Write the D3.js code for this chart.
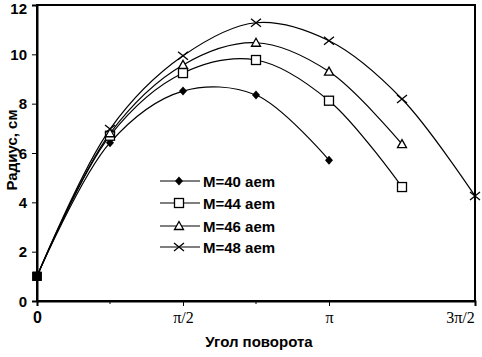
<!DOCTYPE html>
<html><head><meta charset="utf-8">
<script src="https://cdn.jsdelivr.net/npm/d3@7"></script>
<style>body{margin:0;background:#fff}svg{display:block}</style>
</head><body>
<script>
const xAngles = [0, Math.PI/4, Math.PI/2, 3*Math.PI/4, Math.PI, 5*Math.PI/4, 3*Math.PI/2];
const seriesNames = ["M=40 aem", "M=44 aem", "M=46 aem", "M=48 aem"];
const m40 = [1.0, 6.42, 8.51, 8.35, 5.71];
const m44 = [1.0, 6.7, 9.24, 9.77, 8.12, 4.62];
const m46 = [1.0, 6.8, 9.57, 10.47, 9.3, 6.36];
const m48 = [1.0, 6.97, 9.94, 11.28, 10.55, 8.19, 4.26];
const yTicks = [0, 2, 4, 6, 8, 10, 12];
const xTickValues = [0, Math.PI/2, Math.PI, 3*Math.PI/2];
const xTickLabels = ["0", "π/2", "π", "3π/2"];
const markers = ["diamond", "square", "triangle", "x"];

const W = 482, H = 357;
const SANS = "Liberation Sans, Arial, sans-serif";
const SERIF = "Liberation Serif, Times New Roman, serif";
const svg = d3.select("body").append("svg").attr("width", W).attr("height", H);
const x = d3.scaleLinear().domain([0, 3*Math.PI/2]).range([37, 475]);
const y = d3.scaleLinear().domain([0, 12]).range([301, 5]);

// frame
svg.append("rect").attr("x", 37).attr("y", 5).attr("width", 438).attr("height", 296)
  .attr("fill", "none").attr("stroke", "#000").attr("stroke-width", 2);

// y axis
const yAxis = d3.axisLeft(y).tickValues(yTicks).tickSize(5).tickPadding(5).tickFormat(d3.format("d"));
const gy = svg.append("g").attr("transform", "translate(37,0)").call(yAxis);
gy.select(".domain").attr("stroke-width", 2);
gy.selectAll("text").attr("font-family", SANS).attr("font-size", 15).attr("font-weight", "bold").attr("fill", "#000")
  .attr("dy", d => d === 12 ? "0.85em" : "0.35em").attr("y", d => d === 12 ? -4 : 0);

// x axis
const xAxis = d3.axisBottom(x).tickValues(xTickValues).tickSize(5).tickPadding(6)
  .tickFormat((d, i) => xTickLabels[i]);
const gx = svg.append("g").attr("transform", "translate(0,301)").call(xAxis);
gx.select(".domain").attr("stroke-width", 2);
gx.selectAll("text").attr("font-family", (d, i) => i === 0 ? SANS : SERIF)
  .attr("font-weight", (d, i) => i === 0 ? "bold" : "normal")
  .attr("font-size", 16).attr("fill", "#000")
  .attr("x", (d, i) => i === 3 ? -15 : 0);
// minor marks
const minor = [Math.PI/4, 3*Math.PI/4];
svg.selectAll(".minor").data(minor).enter().append("line")
  .attr("x1", d => x(d)).attr("x2", d => x(d)).attr("y1", 302).attr("y2", 304)
  .attr("stroke", "#000").attr("stroke-width", 1);

// axis titles
svg.append("text").attr("x", 259).attr("y", 347).attr("text-anchor", "middle")
  .attr("font-family", SANS).attr("font-size", 15).attr("font-weight", "bold").text("Угол поворота");
svg.append("text").attr("transform", "translate(17,150) rotate(-90)").attr("text-anchor", "middle")
  .attr("font-family", SANS).attr("font-size", 15).attr("font-weight", "bold").text("Радиус, см");

const allSeries = [m40, m44, m46, m48];
const line = d3.line().x((d, i) => x(xAngles[i])).y(d => y(d)).curve(d3.curveCatmullRom.alpha(0.5));

function drawMarker(g, type, cx, cy) {
  if (type === "diamond") {
    g.append("path").attr("d", `M${cx},${cy-4.5}L${cx+4},${cy}L${cx},${cy+4.5}L${cx-4},${cy}Z`).attr("fill", "#000");
  } else if (type === "square") {
    g.append("rect").attr("x", cx-4.5).attr("y", cy-4.5).attr("width", 9).attr("height", 9)
      .attr("fill", "#fff").attr("stroke", "#000").attr("stroke-width", 1.3);
  } else if (type === "triangle") {
    g.append("path").attr("d", `M${cx},${cy-4.5}L${cx+4.5},${cy+3.5}L${cx-4.5},${cy+3.5}Z`)
      .attr("fill", "#fff").attr("stroke", "#000").attr("stroke-width", 1.3);
  } else {
    g.append("path").attr("d", `M${cx-5},${cy-4}L${cx+5},${cy+4}M${cx-5},${cy+4}L${cx+5},${cy-4}`)
      .attr("stroke", "#000").attr("stroke-width", 1.3).attr("fill", "none");
  }
}

allSeries.forEach((s, k) => {
  svg.append("path").datum(s).attr("d", line).attr("fill", "none").attr("stroke", "#000").attr("stroke-width", 1.2);
});
allSeries.forEach((s, k) => {
  const g = svg.append("g");
  s.forEach((v, i) => {
    if (i === 0) {
      g.append("rect").attr("x", x(0)-4.5).attr("y", y(v)-4.5).attr("width", 9).attr("height", 9).attr("fill", "#000");
    } else drawMarker(g, markers[k], x(xAngles[i]), y(v));
  });
});

// legend
const legY = [181, 203, 226, 247];
seriesNames.forEach((n, k) => {
  const g = svg.append("g");
  g.append("line").attr("x1", 160).attr("x2", 200).attr("y1", legY[k]).attr("y2", legY[k]).attr("stroke", "#000").attr("stroke-width", 1.2);
  drawMarker(g, markers[k], 179, legY[k]);
  g.append("text").attr("x", 203).attr("y", legY[k] + 5.5)
    .attr("font-family", SANS).attr("font-size", 15).attr("font-weight", "bold").text(n);
});
</script>
</body></html>
